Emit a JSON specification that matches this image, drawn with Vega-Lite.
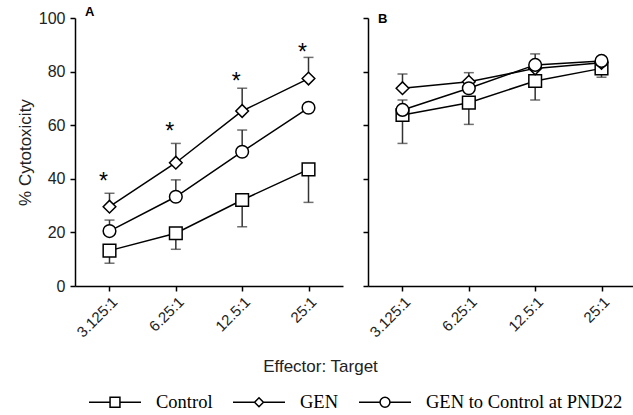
{
  "$schema": "https://vega.github.io/schema/vega-lite/v6.json",
  "padding": {"left": 16, "top": 6, "right": 0, "bottom": 0},
  "bounds": "flush",
  "spacing": 25,
  "resolve": {"scale": {"shape": "independent"}},
  "config": {
    "view": {"stroke": null},
    "font": "Liberation Sans",
    "axis": {"grid": false, "domainColor": "black", "domainWidth": 1.5, "tickColor": "black", "tickWidth": 1.5, "tickSize": 5, "labelFont": "Liberation Sans", "labelColor": "#222", "titleFont": "Liberation Sans", "titleFontWeight": "normal", "titleColor": "#222"}
  },
  "data": {"values": [
    {"panel": "A", "group": "Control", "ratio": "3.125:1", "mean": 13.2, "err": 8.5},
    {"panel": "A", "group": "Control", "ratio": "6.25:1", "mean": 19.7, "err": 13.7},
    {"panel": "A", "group": "Control", "ratio": "12.5:1", "mean": 32.1, "err": 22.1},
    {"panel": "A", "group": "Control", "ratio": "25:1", "mean": 43.5, "err": 31.2},
    {"panel": "A", "group": "GEN", "ratio": "3.125:1", "mean": 29.6, "err": 34.6, "star": 38.9},
    {"panel": "A", "group": "GEN", "ratio": "6.25:1", "mean": 46.0, "err": 53.2, "star": 57.3},
    {"panel": "A", "group": "GEN", "ratio": "12.5:1", "mean": 65.3, "err": 73.8, "star": 76.0},
    {"panel": "A", "group": "GEN", "ratio": "25:1", "mean": 77.4, "err": 85.3, "star": 86.8},
    {"panel": "A", "group": "GEN to Control at PND22", "ratio": "3.125:1", "mean": 20.5, "err": 24.6},
    {"panel": "A", "group": "GEN to Control at PND22", "ratio": "6.25:1", "mean": 33.3, "err": 39.6},
    {"panel": "A", "group": "GEN to Control at PND22", "ratio": "12.5:1", "mean": 50.1, "err": 58.2},
    {"panel": "A", "group": "GEN to Control at PND22", "ratio": "25:1", "mean": 66.5, "err": null},
    {"panel": "B", "group": "Control", "ratio": "3.125:1", "mean": 63.8, "err": 53.2},
    {"panel": "B", "group": "Control", "ratio": "6.25:1", "mean": 68.4, "err": 60.3},
    {"panel": "B", "group": "Control", "ratio": "12.5:1", "mean": 76.5, "err": 69.4},
    {"panel": "B", "group": "Control", "ratio": "25:1", "mean": 81.2, "err": 77.9},
    {"panel": "B", "group": "GEN", "ratio": "3.125:1", "mean": 73.8, "err": 79.1},
    {"panel": "B", "group": "GEN", "ratio": "6.25:1", "mean": 76.2, "err": 79.6},
    {"panel": "B", "group": "GEN", "ratio": "12.5:1", "mean": 81.2, "err": null},
    {"panel": "B", "group": "GEN", "ratio": "25:1", "mean": 83.3, "err": 85.6},
    {"panel": "B", "group": "GEN to Control at PND22", "ratio": "3.125:1", "mean": 65.7, "err": 69.4},
    {"panel": "B", "group": "GEN to Control at PND22", "ratio": "6.25:1", "mean": 73.8, "err": null},
    {"panel": "B", "group": "GEN to Control at PND22", "ratio": "12.5:1", "mean": 82.5, "err": 86.6},
    {"panel": "B", "group": "GEN to Control at PND22", "ratio": "25:1", "mean": 84.0, "err": null}
  ]},
  "hconcat": [
    {
      "width": 268, "height": 268,
      "title": {"text": "A", "anchor": "start", "orient": "top", "frame": "group", "offset": -9, "baseline": "top", "dx": 10, "fontSize": 13, "fontWeight": "bold", "font": "Liberation Sans", "color": "black"},
      "transform": [{"filter": "datum.panel === 'A'"}],
      "resolve": {"scale": {"shape": "independent"}},
      "encoding": {
        "x": {"field": "ratio", "type": "ordinal", "sort": ["3.125:1", "6.25:1", "12.5:1", "25:1"], "scale": {"type": "point", "padding": 0.52},
              "axis": {"labelAngle": -45, "labelFontSize": 15, "labelPadding": 3, "title": "Effector: Target", "titleX": 245, "titleY": 72, "titleBaseline": "top", "titleFontSize": 17}},
        "y": {"field": "mean", "type": "quantitative", "title": "% Cytotoxicity", "scale": {"domain": [0, 100]},
              "axis": {"values": [0, 20, 40, 60, 80, 100], "labelFontSize": 16, "labelPadding": 5, "titleFontSize": 17, "titlePadding": 4}}
      },
      "layer": [
        {"transform": [{"filter": "isValid(datum.err)"}], "mark": {"type": "rule", "color": "#333", "strokeWidth": 1.5}, "encoding": {"y2": {"field": "err"}}},
        {"transform": [{"filter": "isValid(datum.err)"}], "mark": {"type": "tick", "color": "#333", "thickness": 1.5, "size": 10}, "encoding": {"y": {"field": "err", "type": "quantitative", "title": "% Cytotoxicity"}}},
        {"mark": {"type": "line", "color": "black", "strokeWidth": 1.5}, "encoding": {"detail": {"field": "group"}}},
        {"mark": {"type": "point", "filled": true, "fill": "white", "stroke": "black", "strokeWidth": 1.5, "size": 160, "opacity": 1},
         "encoding": {"shape": {"field": "group", "type": "nominal",
           "scale": {"domain": ["Control", "GEN", "GEN to Control at PND22"], "range": ["square", "diamond", "circle"]}, "legend": null}}},
        {"transform": [{"filter": "isValid(datum.star)"}], "mark": {"type": "text", "text": "*", "fontSize": 23, "dx": -6, "baseline": "middle", "color": "black"}, "encoding": {"y": {"field": "star", "type": "quantitative", "title": "% Cytotoxicity"}}},
        {"transform": [{"filter": "datum.group === 'none'"}],
         "mark": {"type": "point", "filled": false, "color": "black", "strokeWidth": 1.5, "size": 2704},
         "encoding": {"shape": {"field": "group", "type": "nominal",
           "scale": {"domain": ["Control", "GEN", "GEN to Control at PND22"],
                     "range": ["M-1,0H-0.19M0.19,0H1M-0.19,-0.19H0.19V0.19H-0.19Z", "M-1,0H-0.17M0.17,0H1M0,-0.17L0.17,0L0,0.17L-0.17,0Z", "M-1,0H-0.19M0.19,0H1M-0.19,0A0.19,0.19,0,1,0,0.19,0A0.19,0.19,0,1,0,-0.19,0Z"]},
           "legend": {"orient": "none", "legendX": 13, "legendY": 357, "direction": "horizontal", "title": null, "padding": 0,
             "symbolSize": 2704, "symbolStrokeColor": "black", "symbolStrokeWidth": 1.5, "symbolOpacity": 1,
             "labelFont": "Liberation Serif", "labelFontSize": 18.5, "labelColor": "black", "labelOffset": 14, "labelLimit": 300, "columnPadding": 17}}}}
      ]
    },
    {
      "width": 268, "height": 268,
      "title": {"text": "B", "anchor": "start", "orient": "top", "frame": "group", "offset": -9, "baseline": "top", "dx": 10, "fontSize": 13, "fontWeight": "bold", "font": "Liberation Sans", "color": "black"},
      "transform": [{"filter": "datum.panel === 'B'"}],
      "encoding": {
        "x": {"field": "ratio", "type": "ordinal", "sort": ["3.125:1", "6.25:1", "12.5:1", "25:1"], "scale": {"type": "point", "padding": 0.52},
              "axis": {"labelAngle": -45, "labelFontSize": 15, "labelPadding": 3, "title": null}},
        "y": {"field": "mean", "type": "quantitative", "title": null, "scale": {"domain": [0, 100]},
              "axis": {"values": [0, 20, 40, 60, 80, 100], "labels": false, "title": null}}
      },
      "layer": [
        {"transform": [{"filter": "isValid(datum.err)"}], "mark": {"type": "rule", "color": "#333", "strokeWidth": 1.5}, "encoding": {"y2": {"field": "err"}}},
        {"transform": [{"filter": "isValid(datum.err)"}], "mark": {"type": "tick", "color": "#333", "thickness": 1.5, "size": 10}, "encoding": {"y": {"field": "err", "type": "quantitative", "title": null}}},
        {"mark": {"type": "line", "color": "black", "strokeWidth": 1.5}, "encoding": {"detail": {"field": "group"}}},
        {"mark": {"type": "point", "filled": true, "fill": "white", "stroke": "black", "strokeWidth": 1.5, "size": 160, "opacity": 1},
         "encoding": {"shape": {"field": "group", "type": "nominal",
           "scale": {"domain": ["Control", "GEN", "GEN to Control at PND22"], "range": ["square", "diamond", "circle"]}, "legend": null}}}
      ]
    }
  ]
}
